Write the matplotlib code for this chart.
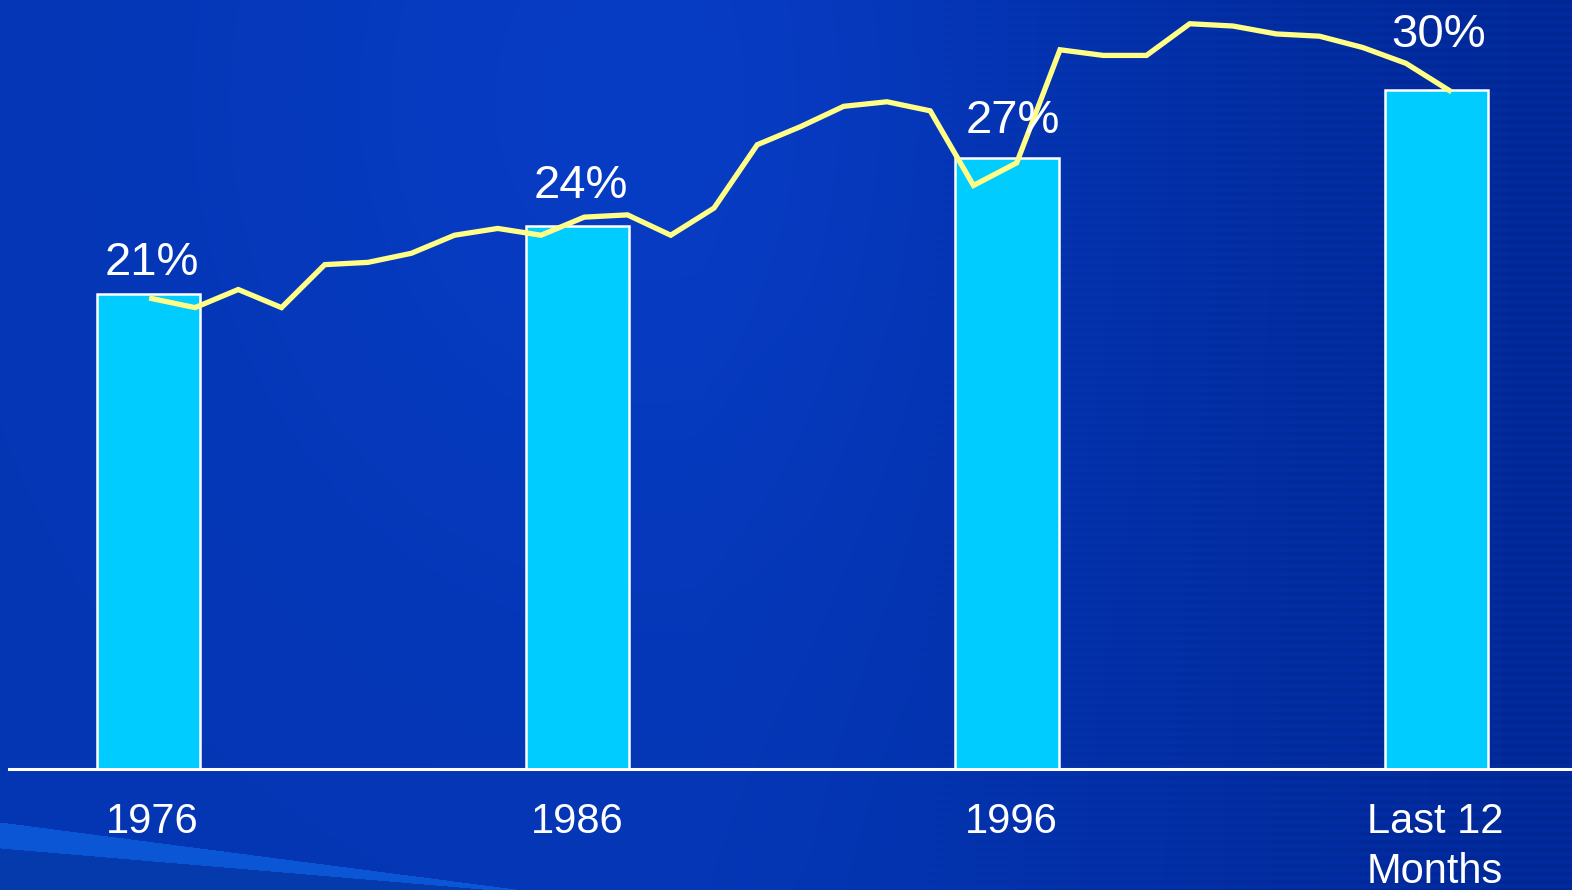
import numpy as np
import matplotlib.pyplot as plt

# share of total, by period
periods = ["1976", "1986", "1996", "Last 12\nMonths"]
share = [21, 24, 27, 30]
bar_labels = ["21%", "24%", "27%", "30%"]

# yearly series drawn over the bars
trend = [20.8, 20.4, 21.2, 20.4, 22.3, 22.4, 22.8, 23.6, 23.9, 23.6,
         24.4, 24.5, 23.6, 24.8, 27.6, 28.4, 29.3, 29.5, 29.1, 25.8,
         26.8, 31.8, 31.55, 31.55, 32.95, 32.85, 32.5, 32.4, 31.9, 31.2,
         30.0]

W, H = 1572, 890
fig = plt.figure(figsize=(W / 100, H / 100), dpi=100)

# blue slide background
yy, xx = np.mgrid[0:H, 0:W].astype(float)
base = np.array([4, 54, 180]) / 255.0
img = np.ones((H, W, 3)) * base
# soft glow top middle, darker towards the right
glow = np.exp(-((xx - 650) ** 2 / (2 * 300 ** 2) + (yy - 100) ** 2 / (2 * 350 ** 2)))
img += glow[..., None] * (np.array([3, 6, 16]) / 255.0)
dark = np.clip((xx - 700) / 872, 0, 1)
img -= dark[..., None] * (np.array([2, 12, 24]) / 255.0)
# faint horizontal stripes fading in on the right
stripe = ((yy // 4) % 2 == 0).astype(float) * np.clip((xx - 900) / 400, 0, 1)
img -= stripe[..., None] * (np.array([1, 3, 7]) / 255.0)
# light swoosh in the bottom left corner
top_edge = 822 + 0.13 * xx
bot_edge = 848 + 0.085 * xx
band = (yy > top_edge) & (yy < bot_edge)
img[band] = np.array([10, 86, 212]) / 255.0
below = yy >= bot_edge
img[below] = np.array([4, 58, 172]) / 255.0
img = np.clip(img, 0, 1)

bg = fig.add_axes([0, 0, 1, 1])
bg.imshow(img, aspect="auto", interpolation="bilinear")
bg.axis("off")

x0 = 9 / W
ax = fig.add_axes([x0, (H - 769) / H, 1 - x0, 769 / H])
ax.patch.set_alpha(0)

pos = np.arange(len(share))
ax.bar(pos + 0.003, share, width=0.24, color="#00CCFF", edgecolor="white",
       linewidth=1.8, zorder=2)

line_x = np.linspace(0.011, 3.033, len(trend))
ax.plot(line_x, trend, color="#FFFF88", linewidth=3.8, zorder=3,
        solid_joinstyle="miter")

label_dy = [0.85, 1.25, 1.1, 1.9]
label_dx = [0.01, 0.01, 0.016, 0.007]
for p, v, t, dx, dy in zip(pos, share, bar_labels, label_dx, label_dy):
    ax.text(p + dx, v + dy, t, ha="center", va="baseline", color="white",
            fontsize=34, family="Liberation Sans", zorder=4)

ax.set_xlim(-0.3215, 3.319)
ax.set_ylim(0, 34)
ax.set_yticks([])
ax.set_xticks(pos + np.array([0.012, 0.003, 0.012, 0.0]))
ax.set_xticklabels(periods, color="white", fontsize=30,
                   family="Liberation Sans", linespacing=1.32)
ax.tick_params(axis="x", length=0, pad=24)
for s in ["top", "right", "left"]:
    ax.spines[s].set_visible(False)
ax.spines["bottom"].set_color("white")
ax.spines["bottom"].set_linewidth(2.2)

fig.savefig("out.png", dpi=100)
